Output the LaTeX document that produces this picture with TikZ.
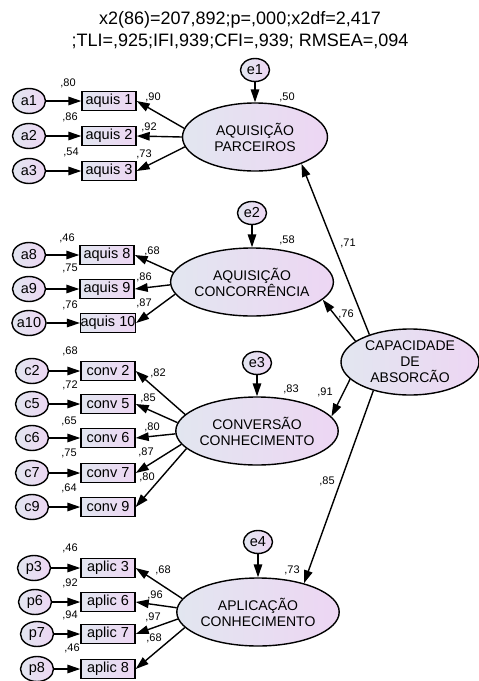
\documentclass[tikz,border=0pt]{standalone}
\usepackage{fontspec}
\setmainfont{Liberation Sans}
\usetikzlibrary{arrows.meta,shapes.geometric}
\definecolor{shadeL}{RGB}{226,230,240}
\definecolor{shadeR}{RGB}{237,214,243}

\begin{document}
\begin{tikzpicture}[x=1pt, y=-1pt, ->, >={Triangle[length=13pt,width=8.5pt]}, line width=1.4pt,
	latent/.style={ellipse, draw, line width=1.4pt, left color=shadeL, right color=shadeR, minimum width=145pt, minimum height=68pt, inner sep=0pt, align=center, font=\fontsize{14}{16}\selectfont},
	obs/.style={rectangle, draw, line width=1.4pt, left color=shadeL, right color=shadeR, minimum width=54pt, minimum height=19pt, inner sep=0pt, font=\fontsize{14.5}{16}\selectfont},
	err/.style={ellipse, draw, line width=1.4pt, left color=shadeL, right color=shadeR, minimum width=33pt, minimum height=25pt, inner sep=0pt, font=\fontsize{14.5}{16}\selectfont},
	coef/.style={font=\fontsize{11}{12}\selectfont, inner sep=0pt}]
	\useasboundingbox (0,0) rectangle (479,681);
	% title
	\node[font=\fontsize{18}{20}\selectfont] (fit1) at (240,20) {x2(86)=207,892;p=,000;x2df=2,417};
	\node[font=\fontsize{18}{20}\selectfont] (fit2) at (240,41) {;TLI=,925;IFI,939;CFI=,939; RMSEA=,094};
	% latent variables
	\node[latent] (ap)  at (255,137) {AQUISIÇÃO\\PARCEIROS};
	\node[latent] (ac)  at (252,282) {AQUISIÇÃO\\CONCORRÊNCIA};
	\node[latent] (cv)  at (257,431) {CONVERSÃO\\CONHECIMENTO};
	\node[latent] (apl) at (258,612) {APLICAÇÃO\\CONHECIMENTO};
	\node[latent, minimum width=138pt, minimum height=66pt] (cap) at (410,362) {CAPACIDADE\\DE\\ABSORCÃO};
	% residuals of latents
	\node[err, minimum width=29pt, minimum height=23pt] (e1) at (255,70)  {e1};
	\node[err, minimum width=29pt, minimum height=23pt] (e2) at (252,213) {e2};
	\node[err, minimum width=29pt, minimum height=23pt] (e3) at (257,363) {e3};
	\node[err, minimum width=29pt, minimum height=23pt] (e4) at (258,542) {e4};
	% indicators
	\node[obs] (q1)  at (109,101) {aquis 1};
	\node[obs] (q2)  at (109,136) {aquis 2};
	\node[obs] (q3)  at (109,171) {aquis 3};
	\node[obs] (q8)  at (107,255) {aquis 8};
	\node[obs] (q9)  at (107,289) {aquis 9};
	\node[obs] (q10) at (108,323) {aquis 10};
	\node[obs] (v2)  at (108,371) {conv 2};
	\node[obs] (v5)  at (108,404) {conv 5};
	\node[obs] (v6)  at (108,438) {conv 6};
	\node[obs] (v7)  at (108,473) {conv 7};
	\node[obs] (v9)  at (108,507) {conv 9};
	\node[obs] (l3)  at (108,568) {aplic 3};
	\node[obs] (l6)  at (108,602) {aplic 6};
	\node[obs] (l7)  at (108,634) {aplic 7};
	\node[obs] (l8)  at (108,669) {aplic 8};
	% residuals of indicators
	\node[err] (a1)  at (29,101) {a1};
	\node[err] (a2)  at (29,136) {a2};
	\node[err] (a3)  at (29,171) {a3};
	\node[err] (a8)  at (29,255) {a8};
	\node[err] (a9)  at (29,289) {a9};
	\node[err] (a10) at (29,323) {a10};
	\node[err] (c2)  at (32,371) {c2};
	\node[err] (c5)  at (32,404) {c5};
	\node[err] (c6)  at (32,438) {c6};
	\node[err] (c7)  at (32,473) {c7};
	\node[err] (c9)  at (32,507) {c9};
	\node[err] (p3)  at (34,568) {p3};
	\node[err] (p6)  at (35,602) {p6};
	\node[err] (p7)  at (37,634) {p7};
	\node[err] (p8)  at (37,669) {p8};
	% paths
	\path
	(a1) edge (q1)   (a2) edge (q2)   (a3) edge (q3)
	(a8) edge (q8)   (a9) edge (q9)   (a10) edge (q10)
	(c2) edge (v2)   (c5) edge (v5)   (c6) edge (v6)   (c7) edge (v7)   (c9) edge (v9)
	(p3) edge (l3)   (p6) edge (l6)   (p7) edge (l7)   (p8) edge (l8)
	(e1) edge (ap.north)   (e2) edge (ac.north)   (e3) edge (cv.north)   (e4) edge (apl.north)
	(ap.173) edge (q1.east)   (ap.180) edge (q2.east)   (ap.188) edge (q3.east)
	(ac.173) edge (q8.east)   (ac.182) edge (q9.east)   (ac.189) edge (q10.east)
	(cv.167) edge (v2.east)   (cv.174) edge (v5.east)   (cv.182) edge (v6.east)
	(cv.190) edge (v7.east)   (cv.194) edge (v9.east)
	(apl.170) edge (l3.east)  (apl.177) edge (l6.east)  (apl.185) edge (l7.east)  (apl.192) edge (l8.east)
	(cap.146) edge (ap.330)   (cap.159) edge (ac.346)
	(cap.196) edge (cv.11)    (cap.218) edge (apl.32);
	% estimates
	\node[coef] (r1)  at (68,83)   {,80};
	\node[coef] (r2)  at (70,117)  {,86};
	\node[coef] (r3)  at (71,152)  {,54};
	\node[coef] (w1)  at (153,97)  {,90};
	\node[coef] (w2)  at (149,127) {,92};
	\node[coef] (w3)  at (144,154) {,73};
	\node[coef] (s1)  at (287,97)  {,50};
	\node[coef] (r8)  at (67,238)  {,46};
	\node[coef] (r9)  at (70,268)  {,75};
	\node[coef] (r10) at (70,305)  {,76};
	\node[coef] (w8)  at (152,251) {,68};
	\node[coef] (w9)  at (144,277) {,86};
	\node[coef] (w10) at (144,303) {,87};
	\node[coef] (s2)  at (287,240) {,58};
	\node[coef] (g1)  at (348,243) {,71};
	\node[coef] (g2)  at (346,314) {,76};
	\node[coef] (rc2) at (70,351)  {,68};
	\node[coef] (rc5) at (70,385)  {,72};
	\node[coef] (rc6) at (69,421)  {,65};
	\node[coef] (rc7) at (69,453)  {,75};
	\node[coef] (rc9) at (69,488)  {,64};
	\node[coef] (wc2) at (158,373) {,82};
	\node[coef] (wc5) at (148,398) {,85};
	\node[coef] (wc6) at (152,427) {,80};
	\node[coef] (wc7) at (146,452) {,87};
	\node[coef] (wc9) at (147,477) {,80};
	\node[coef] (s3)  at (291,389) {,83};
	\node[coef] (g3)  at (325,392) {,91};
	\node[coef] (g4)  at (327,481) {,85};
	\node[coef] (rp3) at (70,548)  {,46};
	\node[coef] (rp6) at (70,583)  {,92};
	\node[coef] (rp7) at (70,615)  {,94};
	\node[coef] (rp8) at (72,648)  {,46};
	\node[coef] (wp3) at (163,570) {,68};
	\node[coef] (wp6) at (155,595) {,96};
	\node[coef] (wp7) at (153,617) {,97};
	\node[coef] (wp8) at (154,638) {,68};
	\node[coef] (s4)  at (292,570) {,73};
\end{tikzpicture}
\end{document}
